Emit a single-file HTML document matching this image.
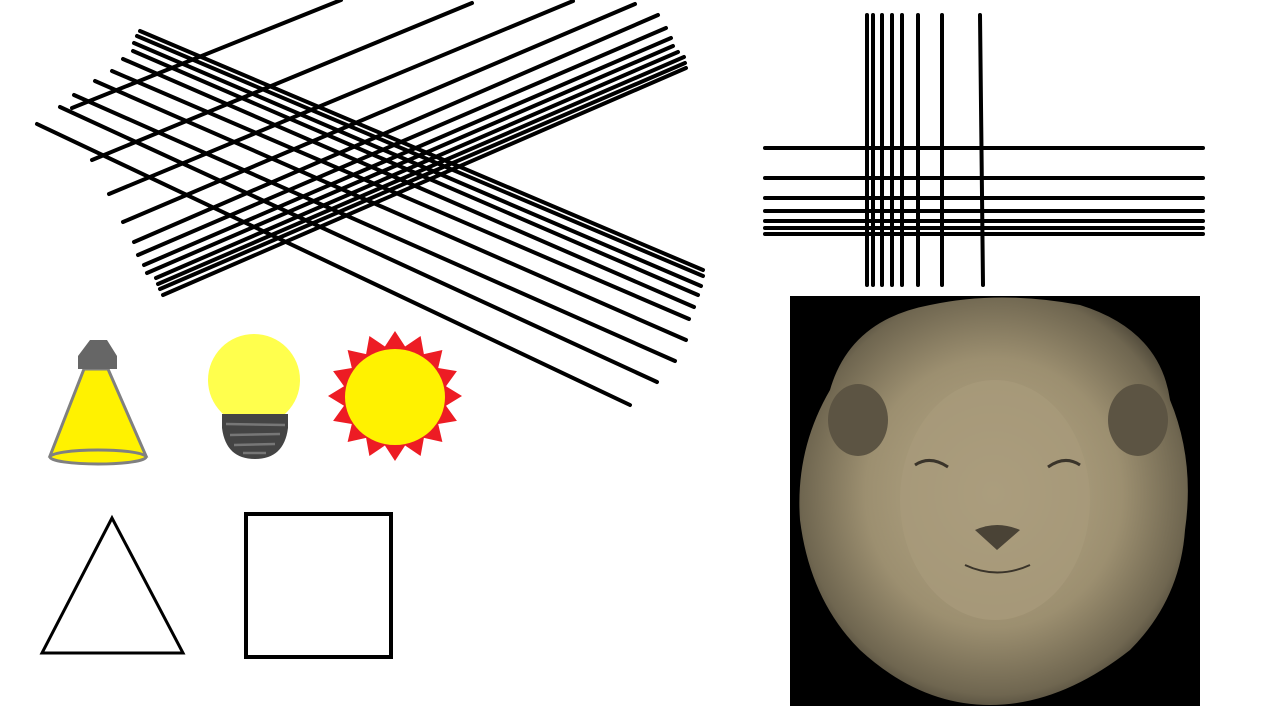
<!DOCTYPE html>
<html><head><meta charset="utf-8"><style>
html,body{margin:0;padding:0;background:#fff;width:1280px;height:720px;overflow:hidden}
svg{display:block}
</style></head><body>
<svg id="s" width="1280" height="720" viewBox="0 0 1280 720">
<defs>
<radialGradient id="lg" cx="50%" cy="48%" r="55%">
<stop offset="0" stop-color="#b8aa88"/><stop offset="0.6" stop-color="#9c8f70"/><stop offset="0.9" stop-color="#6f6650"/><stop offset="1" stop-color="#4a4436"/>
</radialGradient>
</defs>
<g id="diag" stroke="#000" stroke-width="4" stroke-linecap="round"></g>
<g id="grid" stroke="#000" stroke-width="4" stroke-linecap="round"></g>
<g>
<polygon points="84,369 108,369 146,456 50,456" fill="#fff200" stroke="#808080" stroke-width="3"/>
<ellipse cx="98" cy="457" rx="48" ry="7" fill="#fff200" stroke="#808080" stroke-width="3"/>
<polygon points="90,340 107,340 117,356 117,369 78,369 78,356" fill="#666"/>
</g>
<g>
<circle cx="254" cy="380" r="46" fill="#ffff4d"/>
<path d="M222,414 L288,414 L288,428 Q284,459 255,459 Q226,459 222,428 Z" fill="#444"/>
<g stroke="#777" stroke-width="2.5"><line x1="226" y1="424" x2="285" y2="425"/><line x1="230" y1="435" x2="280" y2="434"/><line x1="234" y1="445" x2="275" y2="444"/><line x1="243" y1="453" x2="266" y2="453"/></g>
</g>
<g>
<polygon id="star" fill="#ed1c24"/>
<ellipse cx="395" cy="397" rx="50" ry="48" fill="#fff200"/>
</g>
<polygon points="112,518 42,653 183,653" fill="none" stroke="#000" stroke-width="3"/>
<rect x="246" y="514" width="145" height="143" fill="none" stroke="#000" stroke-width="4"/>
<g>
<rect x="790" y="296" width="410" height="410" fill="#000"/>
<path d="M830,390 Q850,320 930,305 Q1000,290 1080,305 Q1160,330 1170,400 Q1195,460 1185,530 Q1180,600 1130,650 Q1060,705 990,705 Q920,705 860,650 Q810,600 800,520 Q795,450 830,390 Z" fill="url(#lg)"/>
<ellipse cx="995" cy="500" rx="95" ry="120" fill="#a89a7a" opacity="0.8"/>
<ellipse cx="858" cy="420" rx="30" ry="36" fill="#5c5443"/>
<ellipse cx="1138" cy="420" rx="30" ry="36" fill="#5c5443"/>
<path d="M915,465 Q930,455 948,467" stroke="#3a342a" stroke-width="3" fill="none"/>
<path d="M1048,467 Q1065,455 1080,465" stroke="#3a342a" stroke-width="3" fill="none"/>
<path d="M975,530 Q997,520 1020,530 L997,550 Z" fill="#4a4336"/>
<path d="M965,565 Q997,580 1030,565" stroke="#3a342a" stroke-width="2" fill="none"/>
</g>
</svg>
<script>
const NS='http://www.w3.org/2000/svg';
const downLines=[[140,31,703,270],[137,36,703,276],[134,43,701,286],[133,51,698,295],[123,59,694,307],[112,71,689,319],[95,81,686,340],[74,95,675,361],[60,107,657,382],[37,124,630,405]];
const upLines=[[72,108,341,0],[92,160,472,3],[109,194,573,1],[123,222,635,4],[134,242,658,15],[138,255,666,28],[144,265,671,38],[147,273,673,46],[156,278,678,52],[158,284,684,57],[160,289,685,63],[163,295,686,68]];
const vX=[867,873,882,892,902,918,942,980];
const hY=[148,178,198,211,221,228,234];
const dg=document.getElementById('diag');
function ln(g,a){const l=document.createElementNS(NS,'line');l.setAttribute('x1',a[0]);l.setAttribute('y1',a[1]);l.setAttribute('x2',a[2]);l.setAttribute('y2',a[3]);


g.appendChild(l);}
downLines.forEach(a=>ln(dg,a));upLines.forEach(a=>ln(dg,a));
const gr=document.getElementById('grid');
vX.forEach((x,i)=>ln(gr,[x,15,i==7?983:x,285]));
hY.forEach(y=>ln(gr,[765,y,1203,y]));
let pts=[];const n=16;
for(let i=0;i<2*n;i++){const r=i%2?52:67;const a=Math.PI*i/n-Math.PI/2;pts.push((395+r*Math.cos(a)).toFixed(1)+','+(396+r*0.97*Math.sin(a)).toFixed(1));}
document.getElementById('star').setAttribute('points',pts.join(' '));
</script>
</body></html>
